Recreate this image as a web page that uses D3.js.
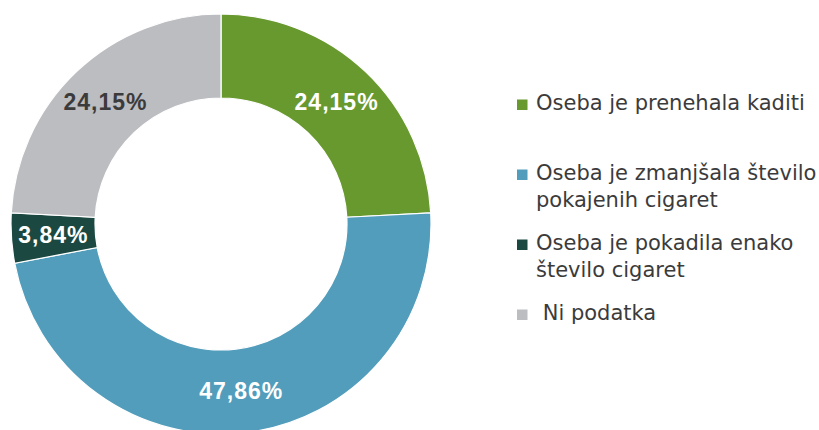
<!DOCTYPE html>
<html>
<head>
<meta charset="utf-8">
<script src="https://cdn.jsdelivr.net/npm/d3@7"></script>
<style>
  html, body { margin: 0; padding: 0; background: #fff; }
  svg { display: block; }
</style>
</head>
<body>
<div id="chart"></div>
<script>
// Categories (legend order = slice order, clockwise from 12 o'clock)
const categories = [
  "Oseba je prenehala kaditi",
  "Oseba je zmanjšala število pokajenih cigaret",
  "Oseba je pokadila enako število cigaret",
  "Ni podatka"
];
// Legend text split into lines
const legendLines = [
  ["Oseba je prenehala kaditi"],
  ["Oseba je zmanjšala število", "pokajenih cigaret"],
  ["Oseba je pokadila enako", "število cigaret"],
  [" Ni podatka"]
];
const values = [24.15, 47.86, 3.84, 24.15];
const valueLabels = ["24,15%", "47,86%", "3,84%", "24,15%"];
const sliceColors = ["#68992e", "#529dbb", "#1b4941", "#bcbdc1"];
const labelColors = ["#ffffff", "#ffffff", "#ffffff", "#3b3b3b"];

const width = 819, height = 430;
const cx = 221, cy = 224;
const outerR = 210, innerR = 126;

/* Create the SVG container */
const svg = d3.select("#chart")
  .append("svg")
  .attr("width", width)
  .attr("height", height)
  .attr("viewBox", [0, 0, width, height]);

const data = categories.map((c, i) => ({
  category: c,
  value: values[i],
  label: valueLabels[i],
  lines: legendLines[i]
}));

const colors = d3.scaleOrdinal()
  .domain(categories)
  .range(sliceColors);

const labelColor = d3.scaleOrdinal()
  .domain(categories)
  .range(labelColors);

/* Pie layout, keep data order */
const pie = d3.pie()
  .sort(null)
  .value(d => d.value);

const arc = d3.arc()
  .innerRadius(innerR)
  .outerRadius(outerR);

const arcs = pie(data);

const g = svg.append("g")
  .attr("transform", `translate(${cx}, ${cy})`);

g.selectAll("path")
  .data(arcs)
  .join("path")
    .attr("d", arc)
    .attr("fill", d => colors(d.data.category))
    .attr("stroke", "#fff")
    .attr("stroke-width", 1.2);

/* Value labels at the arc centroids */
g.selectAll("text")
  .data(arcs)
  .join("text")
    .attr("transform", d => `translate(${arc.centroid(d)})`)
    .attr("text-anchor", "middle")
    .attr("dy", "0.35em")
    .style("font-family", "'Liberation Sans', Arial, sans-serif")
    .style("font-weight", "bold")
    .style("font-size", "23px")
    .style("letter-spacing", "1px")
    .style("fill", d => labelColor(d.data.category))
    .text(d => d.data.label);

/* Legend */
const legendX = 517, textX = 536;
const legendY = d3.scalePoint()
  .domain(categories)
  .range([110, 320]);

const item = svg.append("g")
  .selectAll("g")
  .data(data)
  .join("g")
    .attr("transform", d => `translate(0, ${legendY(d.category)})`);

item.append("rect")
  .attr("x", legendX)
  .attr("y", -10.5)
  .attr("width", 10.5)
  .attr("height", 10.5)
  .attr("fill", d => colors(d.category));

item.append("text")
  .attr("x", textX)
  .style("font-family", "'DejaVu Sans', sans-serif")
  .style("font-size", "21px")
  .style("fill", "#3b3b3b")
  .style("white-space", "pre")
  .selectAll("tspan")
  .data(d => d.lines)
  .join("tspan")
    .attr("x", textX)
    .attr("dy", (d, i) => i === 0 ? 0 : 27)
    .text(d => d);
</script>
</body>
</html>
